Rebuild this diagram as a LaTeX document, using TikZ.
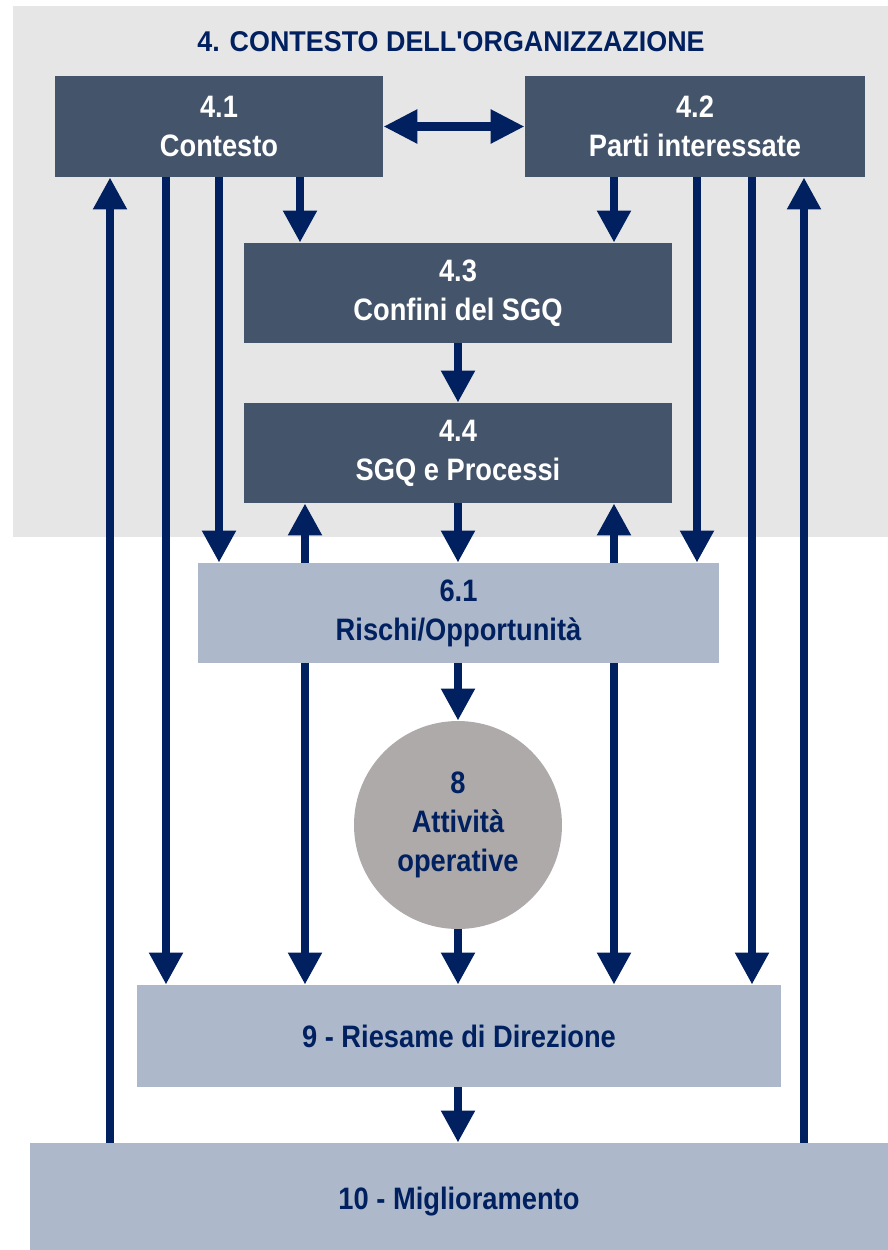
\documentclass[tikz,border=0pt]{standalone}
\usepackage{fontspec}
\setmainfont{Liberation Sans}
\newfontfamily\boxfont{Liberation Sans}[FakeStretch=0.88]
\newfontfamily\headfont{Liberation Sans}[FakeStretch=0.94, Ligatures=TeXOff]
\usetikzlibrary{arrows.meta,positioning}
\definecolor{navy}{HTML}{002060}
\definecolor{slate}{HTML}{44546A}
\definecolor{pale}{HTML}{ADB9CA}
\definecolor{stone}{HTML}{AEAAAA}
\definecolor{backgray}{HTML}{E7E6E6}
\tikzset{
    darkbox/.style={rectangle, fill=slate, text=white, inner sep=0pt, align=center,
        font=\boxfont\bfseries\fontsize{15.5}{19.5}\selectfont},
    lightbox/.style={rectangle, fill=pale, text=navy, inner sep=0pt, align=center,
        font=\boxfont\bfseries\fontsize{15.5}{19.5}\selectfont},
    flow/.style={navy, line width=4pt, -{Triangle[length=16pt,width=16pt]}},
    flowboth/.style={navy, line width=4.5pt,
        {Triangle[length=17pt,width=16pt]}-{Triangle[length=17pt,width=16pt]}}
}

\begin{document}
\begin{tikzpicture}[x=0.5pt, y=-0.5pt]
                                \useasboundingbox (0, 0) rectangle (888, 1250);
                                \fill[backgray] (13, 6) rectangle (888, 537);
                                \node[text=navy, font=\headfont\bfseries\fontsize{14.3}{17}\selectfont] (title) at (451, 42) {4. CONTESTO DELL'ORGANIZZAZIONE};
                                \node[darkbox, minimum width=164pt, minimum height=50.5pt] (n41) at (219, 126.5) {4.1\\Contesto};
                                \node[darkbox, minimum width=170pt, minimum height=50.5pt] (n42) at (695, 126.5) {4.2\\Parti interessate};
                                \node[darkbox, minimum width=214pt, minimum height=50pt] (n43) at (458, 293) {4.3\\Confini del SGQ};
                                \node[darkbox, minimum width=214pt, minimum height=50pt] (n44) at (458, 453) {4.4\\SGQ e Processi};
                                \node[lightbox, minimum width=260.5pt, minimum height=50pt] (n61) at (458.5, 613) {6.1\\Rischi/Opportunità};
                                \node[circle, fill=stone, text=navy, inner sep=0pt, minimum size=104pt, align=center,
                                    font=\boxfont\bfseries\fontsize{15.5}{19.5}\selectfont] (n8) at (458, 825) {8\\Attività\\operative};
                                \node[lightbox, minimum width=322pt, minimum height=51pt] (n9) at (459, 1036) {9 - Riesame di Direzione};
                                \node[lightbox, minimum width=429pt, minimum height=59pt] (n10) at (459, 1202) {10 - Miglioramento};
                                % columns of the long arrows
                                \coordinate (c1) at (110, 0);
                                \coordinate (c2) at (166, 0);
                                \coordinate (c3) at (219, 0);
                                \coordinate (c4) at (300, 0);
                                \coordinate (c5) at (305, 0);
                                \coordinate (c6) at (458, 0);
                                \coordinate (c7) at (614, 0);
                                \coordinate (c8) at (697, 0);
                                \coordinate (c9) at (752, 0);
                                \coordinate (c10) at (804, 0);
                                \draw[flowboth] (n41) -- (n42);
                                \draw[flow] (n10.north -| c1) -- (n41.south -| c1);
                                \draw[flow] (n41.south -| c2) -- (n9.north -| c2);
                                \draw[flow] (n41.south -| c3) -- (n61.north -| c3);
                                \draw[flow] (n41.south -| c4) -- (n43.north -| c4);
                                \draw[flow] (n42.south -| c7) -- (n43.north -| c7);
                                \draw[flow] (n42.south -| c8) -- (n61.north -| c8);
                                \draw[flow] (n42.south -| c9) -- (n9.north -| c9);
                                \draw[flow] (n10.north -| c10) -- (n42.south -| c10);
                                \draw[flow] (n43.south -| c6) -- (n44.north -| c6);
                                \draw[flow] (n44.south -| c6) -- (n61.north -| c6);
                                \draw[flow] (n61.south -| c6) -- (n8.north);
                                \draw[flow] (n8.south) -- (n9.north -| c6);
                                \draw[flow] (n9.south -| c6) -- (n10.north -| c6);
                                \draw[flow] (n61.north -| c5) -- (n44.south -| c5);
                                \draw[flow] (n61.south -| c5) -- (n9.north -| c5);
                                \draw[flow] (n61.north -| c7) -- (n44.south -| c7);
                                \draw[flow] (n61.south -| c7) -- (n9.north -| c7);
                            \end{tikzpicture}
\end{document}
